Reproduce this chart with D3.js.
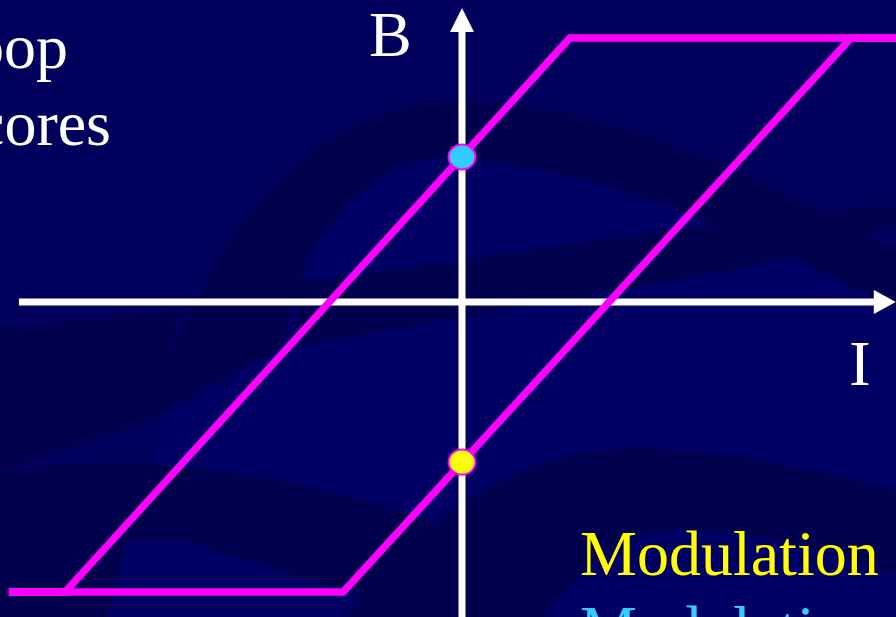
<!DOCTYPE html>
<html>
<head>
<meta charset="utf-8">
<script src="https://cdn.jsdelivr.net/npm/d3@7"></script>
<style>
  html, body { margin: 0; padding: 0; background: #00005c; overflow: hidden; }
  svg { display: block; }
  .slideText { font-family: "Liberation Serif", "Times New Roman", serif; font-size: 64px; }
</style>
</head>
<body>
<div id="chart"></div>
<script>
// Hysteresis loop data (I = current, B = flux density)
const upI = [-10.3, -2.7, 8.84, 10];      // ascending branch
const upB = [-10, -10, 9.1, 9.1];
const downI = [10, 2.45, -9.02, -10.3];   // descending branch
const downB = [9.1, 9.1, -10, -10];
const remI = [0, 0];                      // remanence points
const remB = [5.0, -5.52];
const remColors = ["#33ccff", "#ffff00"];
const axisI = [-10.07, 9.86];
const axisB = [-10.9, 10.14];
const labels = ["B", "I"];

// Dimensions
let w = 896, h = 617;
let svg = d3.select("#chart").append("svg").attr("width", w).attr("height", h);

// Scales
let xScale = d3.scaleLinear().domain([-10, 10]).range([22, 902]);
let yScale = d3.scaleLinear().domain([-10, 10]).range([592, 12]);

// Background swooshes
let bg = svg.append("g");
bg.append("rect").attr("width", w).attr("height", h).attr("fill", "#00005c");
bg.append("path").attr("fill", "#000064")
  .attr("d", "M110,617 L170,390 C220,270 320,170 446,150 C560,140 700,180 896,270 L896,617 Z");
bg.append("path").attr("fill", "#00004e")
  .attr("d", "M0,330 L183,310 L150,420 L0,470 Z");
bg.append("path").attr("fill", "#00004e")
  .attr("d", "M150,420 C200,250 300,110 446,102 C560,98 690,140 896,250 L896,310 C720,215 570,165 450,158 C360,160 300,240 283,347 Z");
bg.append("path").attr("fill", "#00004e")
  .attr("d", "M297,283 L657,232 L896,205 L896,225 L743,268 L297,346 Z");
bg.append("path").attr("fill", "#00004e")
  .attr("d", "M0,472 C60,465 120,460 171,465 C260,475 340,490 400,512 C470,535 520,555 560,575 L520,617 L420,617 C340,590 250,560 183,540 L125,540 L108,617 L0,617 Z");
bg.append("path").attr("fill", "#00004e")
  .attr("d", "M347,617 C380,570 420,530 470,498 C520,468 570,450 629,449 C710,448 800,465 896,492 L896,575 C830,550 760,535 693,530 C650,528 617,540 590,565 C570,585 555,600 545,617 Z");

// Axes
let axes = svg.append("g").attr("fill", "#ffffff").attr("stroke", "#ffffff");
axes.append("line")
  .attr("x1", xScale(axisI[0])).attr("x2", xScale(axisI[1]) - 20)
  .attr("y1", yScale(0)).attr("y2", yScale(0)).attr("stroke-width", 7);
axes.append("line")
  .attr("x1", xScale(0)).attr("x2", xScale(0))
  .attr("y1", yScale(axisB[0])).attr("y2", yScale(axisB[1]) + 22).attr("stroke-width", 7);
axes.append("path").attr("stroke", "none")
  .attr("d", "M" + xScale(axisI[1]) + "," + yScale(0) + " l-22,-12 l0,24 Z");
axes.append("path").attr("stroke", "none")
  .attr("d", "M" + xScale(0) + "," + yScale(axisB[1]) + " l-12,24 l24,0 Z");

// Loop branches
let line = d3.line().x((d) => { return xScale(d[0]); }).y((d) => { return yScale(d[1]); });
let branches = [d3.zip(upI, upB), d3.zip(downI, downB)];
svg.selectAll(".branch").data(branches).enter().append("path")
  .attr("class", "branch")
  .attr("d", line)
  .attr("fill", "none").attr("stroke", "#ff00ff").attr("stroke-width", 7.5)
  .attr("stroke-linejoin", "miter");

// Remanence points
svg.selectAll(".rem").data(d3.zip(remI, remB)).enter().append("ellipse")
  .attr("class", "rem")
  .attr("cx", (d) => { return xScale(d[0]); })
  .attr("cy", (d) => { return yScale(d[1]); })
  .attr("rx", 13.5).attr("ry", 12.5)
  .attr("fill", (d, i) => { return remColors[i]; })
  .attr("stroke", "#ff00ff").attr("stroke-width", 2);

// Axis labels
svg.append("text").attr("class", "slideText").attr("fill", "#ffffff")
  .attr("x", 369).attr("y", 56).text(labels[0]);
svg.append("text").attr("class", "slideText").attr("fill", "#ffffff")
  .attr("x", 860).attr("y", 385).attr("text-anchor", "middle").text(labels[1]);

// Slide text (cut off at edges as in the slide)
svg.append("text").attr("class", "slideText").attr("fill", "#ffffff")
  .attr("x", 68).attr("y", 68).attr("text-anchor", "end").text("loop");
svg.append("text").attr("class", "slideText").attr("fill", "#ffffff")
  .attr("x", 111).attr("y", 145).attr("text-anchor", "end").text("cores");
svg.append("text").attr("class", "slideText").attr("fill", "#ffff00")
  .attr("x", 580).attr("y", 575).text("Modulation");
svg.append("text").attr("class", "slideText").attr("fill", "#33ccff")
  .attr("x", 580).attr("y", 650).text("Modulation");
</script>
</body>
</html>
